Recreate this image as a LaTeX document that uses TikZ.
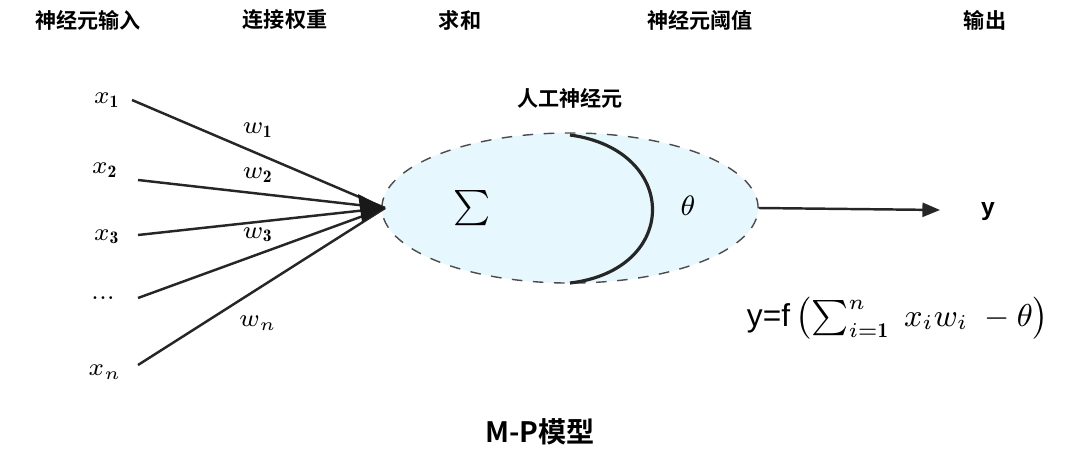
\documentclass[tikz,border=0pt]{standalone}
\usepackage{fontspec}
\newfontfamily\cjk{Noto Sans CJK SC}[BoldFont={* Bold}]
\setsansfont{Liberation Sans}
\usetikzlibrary{arrows.meta,shapes.geometric}
\begin{document}
\begin{tikzpicture}[x=0.01cm,y=-0.01cm,
  hdr/.style={font=\cjk\bfseries\fontsize{6}{7}\selectfont},
  var/.style={font=\fontsize{7}{8}\selectfont},
  wire/.style={line width=0.7pt,draw=black!85}]
\useasboundingbox (0,0) rectangle (1080,464);
\node[hdr] (h1) at (88,20) {神经元输入};
\node[hdr] (h2) at (285,20) {连接权重};
\node[hdr] (h3) at (460,20) {求和};
\node[hdr] (h4) at (700,20) {神经元阈值};
\node[hdr] (h5) at (985,20) {输出};
\node[hdr] (an) at (570,98) {人工神经元};
\node[font=\cjk\bfseries\fontsize{8}{9}\selectfont] (mp) at (540,432) {M-P模型};
\node[var] (x1) at (107,100) {$x_{\mathbf 1}$};
\node[var] (x2) at (105,170) {$x_{\mathbf 2}$};
\node[var] (x3) at (107,237) {$x_{\mathbf 3}$};
\node[var] (xd) at (103,298) {...};
\node[var] (xn) at (105,372) {$x_n$};
\node[var] (w1) at (258,130) {$w_{\mathbf 1}$};
\node[var] (w2) at (258,175) {$w_{\mathbf 2}$};
\node[var] (w3) at (258,235) {$w_{\mathbf 3}$};
\node[var] (wn) at (258,323) {$w_n$};
\coordinate (tip) at (385,208);
\coordinate (s1) at (132,100);
\coordinate (s2) at (138,180);
\coordinate (s3) at (138,235);
\coordinate (s4) at (138,298);
\coordinate (s5) at (138,365);
\node[draw=black!70,dashed,line width=0.4pt,fill=cyan!10!white,ellipse,inner sep=0pt,minimum width=3.76cm,minimum height=1.5cm] (cell) at (570,208) {};
\draw[line width=0.9pt,black!85] (570,135) .. controls (680,150) and (680,270) .. (570,283);
\foreach \s in {s1,s2,s3,s4,s5} \draw[wire] (\s) -- (tip);
\fill[black!90] (tip) -- (358,194) -- (362,222) -- cycle;
\node[font=\fontsize{10}{12}\selectfont] (sig) at (472,208) {$\sum$};
\node[font=\fontsize{8.5}{10}\selectfont] (th) at (688,206) {$\theta$};
\node[font=\sffamily\bfseries\fontsize{7}{8}\selectfont] (y) at (988,212) {y};
\draw[wire,-{Triangle[length=5pt,width=4pt]}] (cell.east) -- (940,210);
\node[font=\sffamily\fontsize{9}{10}\selectfont] (f) at (898,318) {y=f\,$\bigl(\sum_{i=\mathbf 1}^{n}\ x_iw_i\ -\theta\bigr)$};
\end{tikzpicture}
\end{document}
